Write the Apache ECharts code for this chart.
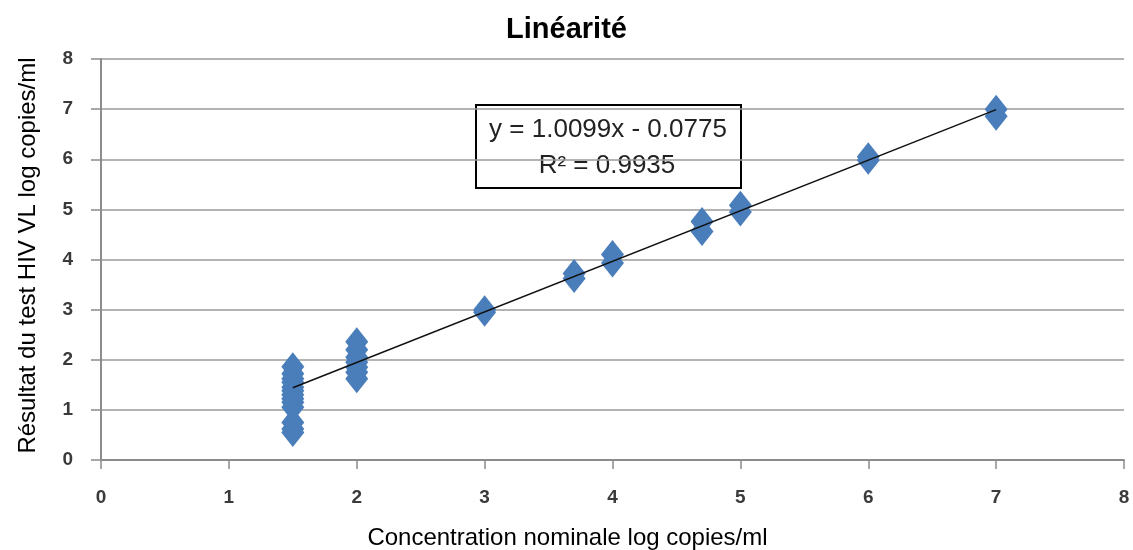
<!DOCTYPE html>
<html><head><meta charset="utf-8">
<script src="https://cdn.jsdelivr.net/npm/echarts@6/dist/echarts.min.js"></script>
<style>html,body{margin:0;padding:0;background:#fff;overflow:hidden}#c{width:1133px;height:550px}</style>
</head><body><div id="c"></div>
<script>
// Nominal concentrations (x) and measured results (y)
const xNominal = [1.5,1.5,1.5,1.5,1.5,1.5,1.5,1.5,1.5,1.5,1.5,1.5,1.5,
                  2,2,2,2,2,2,2,
                  3,3,
                  3.7,3.7,
                  4,4,
                  4.7,4.7,
                  5,5,
                  6,6,
                  7,7];
const yMeasured = [0.55,0.62,0.75,1.05,1.15,1.22,1.3,1.38,1.45,1.55,1.62,1.72,1.86,
                   1.62,1.75,1.85,1.95,2.05,2.2,2.36,
                   2.95,3.0,
                   3.62,3.72,
                   3.93,4.1,
                   4.56,4.76,
                   4.95,5.08,
                   5.98,6.05,
                   6.86,7.0];
const trendX = [1.5, 7];
const trendY = [1.44, 6.99];
const xTicks = [0,1,2,3,4,5,6,7,8];
const yTicks = [0,1,2,3,4,5,6,7,8];
const equationText = 'y = 1.0099x - 0.0775';
const r2Text = 'R² = 0.9935';

const points = xNominal.map((x,i)=>[x, yMeasured[i]]);
const trend = trendX.map((x,i)=>[x, trendY[i]]);

const chart = echarts.init(document.getElementById('c'));
const tickLabel = {fontFamily:'Liberation Sans, Arial', fontWeight:'bold', fontSize:19, color:'#3a3a3a'};
chart.setOption({
  animation:false,
  title:{text:'Linéarité', left:'center', top:10,
    textStyle:{fontFamily:'Liberation Sans, Arial', fontWeight:'bold', fontSize:29, color:'#000'}},
  grid:{left:101, right:9, top:59, bottom:90, containLabel:false, outerBoundsMode:'none'},
  xAxis:{type:'value', min:xTicks[0], max:xTicks[xTicks.length-1], interval:1,
    name:'Concentration nominale log copies/ml', nameLocation:'middle', nameGap:66,
    nameTextStyle:{fontFamily:'Liberation Sans, Arial', fontSize:24, color:'#000', padding:[0,90,0,0]},
    axisLine:{show:true, onZero:false, lineStyle:{color:'#8c8c8c', width:2}},
    axisTick:{show:true, length:9, lineStyle:{color:'#8c8c8c', width:1.5}},
    axisLabel:Object.assign({margin:28}, tickLabel),
    splitLine:{show:false}},
  yAxis:{type:'value', min:yTicks[0], max:yTicks[yTicks.length-1], interval:1,
    name:'Résultat du test HIV VL log copies/ml', nameLocation:'middle', nameGap:61,
    nameTextStyle:{fontFamily:'Liberation Sans, Arial', fontSize:24, color:'#000', padding:[0,0,0,8]},
    axisLine:{show:true, onZero:false, lineStyle:{color:'#8c8c8c', width:2}},
    axisTick:{show:true, length:10, lineStyle:{color:'#8c8c8c', width:1.5}},
    axisLabel:Object.assign({margin:28}, tickLabel),
    splitLine:{show:true, lineStyle:{color:'#9a9a9a', width:1.5}}},
  series:[
    {type:'scatter', data:points, symbol:'diamond', symbolSize:[23,29],
     itemStyle:{color:'#4a7ebb', opacity:1}, z:2},
    {type:'line', data:trend, symbol:'none', lineStyle:{color:'#111', width:1.5}, z:3}
  ],
  graphic:[
    {type:'group', left:475, top:104, z:10, children:[
      {type:'rect', shape:{x:0,y:0,width:265,height:83},
       style:{fill:'#fff', stroke:'#000', lineWidth:2}},
      {type:'text', x:132, y:25, style:{text:equationText, align:'center', verticalAlign:'middle',
        fontFamily:'Liberation Sans, Arial', fontSize:26, fill:'#222'}},
      {type:'text', x:131, y:61, style:{text:r2Text, align:'center', verticalAlign:'middle',
        fontFamily:'Liberation Sans, Arial', fontSize:26, fill:'#222'}}
    ]}
  ]
});
</script></body></html>
